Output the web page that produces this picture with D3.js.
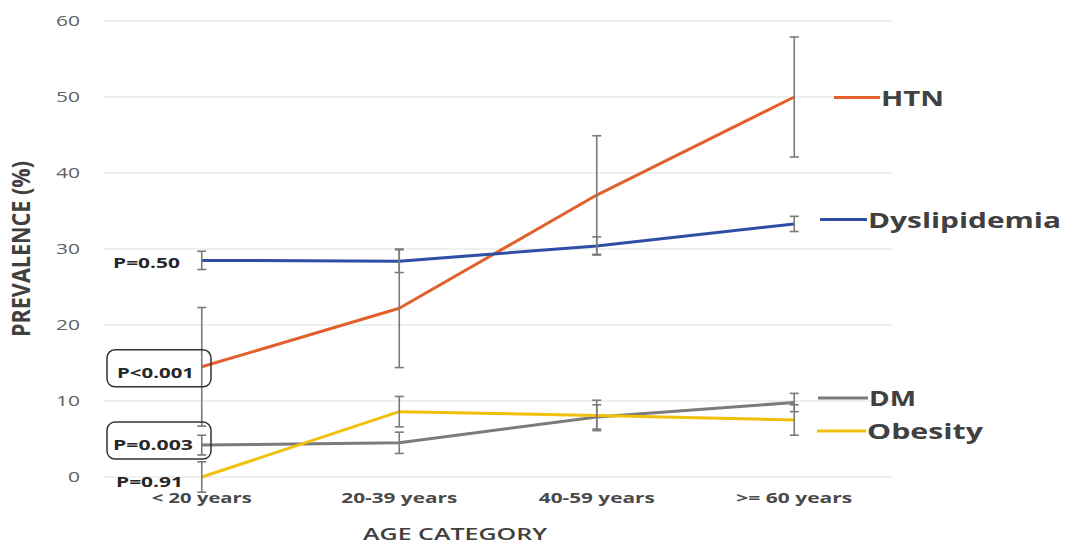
<!DOCTYPE html>
<html>
<head>
<meta charset="utf-8">
<script src="https://cdn.jsdelivr.net/npm/d3@7"></script>
<style>
  html, body { margin: 0; padding: 0; background: #fff; }
  svg { display: block; font-family: "Open Sans", "DejaVu Sans", sans-serif; }
</style>
</head>
<body>
<svg id="chart" width="1067" height="545"></svg>
<script>
// Age groups on the x axis
const categories = ["< 20 years", "20-39 years", "40-59 years", ">= 60 years"];

// Prevalence (%) per age group, with error-bar half widths
const htn = [14.5, 22.2, 37.1, 50.0];
const htnErr = [7.8, 7.8, 7.8, 7.9];
const dyslipidemia = [28.5, 28.4, 30.4, 33.3];
const dyslipidemiaErr = [1.2, 1.5, 1.2, 1.0];
const dm = [4.2, 4.5, 7.9, 9.8];
const dmErr = [1.3, 1.4, 1.6, 1.2];
const obesity = [0.0, 8.6, 8.1, 7.5];
const obesityErr = [2.0, 2.0, 2.0, 2.0];

const seriesNames = ["HTN", "Dyslipidemia", "DM", "Obesity"];
const pValues = ["P<0.001", "P=0.50", "P=0.003", "P=0.91"];
const yTicks = [0, 10, 20, 30, 40, 50, 60];

// ---- layout / style ----
const colors = { HTN: "#E1602B", Dyslipidemia: "#2F4EA6", DM: "#7B7B7B", Obesity: "#F1C10A" };
const plot = { left: 103, right: 893, top: 21, bottom: 477 };

const series = [
  { name: "HTN", values: htn, err: htnErr },
  { name: "Dyslipidemia", values: dyslipidemia, err: dyslipidemiaErr },
  { name: "DM", values: dm, err: dmErr },
  { name: "Obesity", values: obesity, err: obesityErr }
];

const svg = d3.select("#chart");

const x = d3.scaleBand().domain(categories).range([plot.left, plot.right]);
const cx = c => x(c) + x.bandwidth() / 2;
const y = d3.scaleLinear().domain([0, 60]).range([plot.bottom, plot.top]);

// horizontal gridlines
svg.append("g")
  .selectAll("line")
  .data(yTicks)
  .join("line")
  .attr("x1", plot.left).attr("x2", plot.right)
  .attr("y1", d => y(d)).attr("y2", d => y(d))
  .attr("stroke", "#e2e2e2").attr("stroke-width", 1.2);

// y tick labels (right edge at x = 80)
const yAxis = d3.axisLeft(y).tickValues(yTicks).tickSize(0).tickPadding(0);
const gy = svg.append("g").attr("transform", "translate(80,0)").call(yAxis);
gy.select(".domain").remove();
gy.selectAll("text")
  .attr("font-size", 15).attr("fill", "#606060")
  .attr("font-family", "'Open Sans', sans-serif")
  .attr("textLength", d => (d === 0 ? 12 : 24))
  .attr("lengthAdjust", "spacingAndGlyphs");

// x tick labels
const xLabelWidths = [100, 116, 116, 116];
const xAxis = d3.axisBottom(x).tickSize(0).tickPadding(0);
const gx = svg.append("g").attr("transform", "translate(0,493)").call(xAxis);
gx.select(".domain").remove();
gx.selectAll("text")
  .attr("font-size", 14).attr("font-weight", 700).attr("fill", "#4a4a4a")
  .attr("font-family", "'Open Sans', sans-serif")
  .attr("textLength", (d, i) => xLabelWidths[i])
  .attr("lengthAdjust", "spacingAndGlyphs");

// axis titles
svg.append("text")
  .attr("x", 455).attr("y", 540)
  .attr("text-anchor", "middle")
  .attr("font-size", 17).attr("font-weight", 600).attr("fill", "#404040")
  .attr("textLength", 184).attr("lengthAdjust", "spacingAndGlyphs")
  .text("AGE CATEGORY");

svg.append("text")
  .attr("transform", "translate(30,249) scale(1.3,1) rotate(-90)")
  .attr("text-anchor", "middle")
  .attr("font-size", 19).attr("font-weight", 700).attr("fill", "#404040")
  .attr("textLength", 176).attr("lengthAdjust", "spacingAndGlyphs")
  .text("PREVALENCE (%)");

// series lines
const line = d3.line()
  .x((d, i) => cx(categories[i]))
  .y(d => y(d));

const drawOrder = ["DM", "HTN", "Dyslipidemia", "Obesity"];
drawOrder.forEach(name => {
  const s = series.find(t => t.name === name);
  svg.append("path")
    .datum(s.values)
    .attr("d", line)
    .attr("fill", "none")
    .attr("stroke", colors[name])
    .attr("stroke-width", 3)
    .attr("stroke-linejoin", "round");
});

// error bars
const capHalf = 4.5;
series.forEach(s => {
  const g = svg.append("g").attr("stroke", "#7a7a7a").attr("stroke-width", 1.6);
  s.values.forEach((v, i) => {
    const px = cx(categories[i]);
    const lo = y(v - s.err[i]), hi = y(v + s.err[i]);
    g.append("line").attr("x1", px).attr("x2", px).attr("y1", lo).attr("y2", hi);
    g.append("line").attr("x1", px - capHalf).attr("x2", px + capHalf).attr("y1", lo).attr("y2", lo);
    g.append("line").attr("x1", px - capHalf).attr("x2", px + capHalf).attr("y1", hi).attr("y2", hi);
  });
});

// legend labels at the right end of each line
const legend = [
  { name: "HTN", x1: 834, x2: 880, y: 97.5, tw: 63 },
  { name: "Dyslipidemia", x1: 820, x2: 867, y: 219.5, tw: 193 },
  { name: "DM", x1: 818, x2: 868, y: 398, tw: 47 },
  { name: "Obesity", x1: 817, x2: 866, y: 431, tw: 116 }
];
legend.forEach(l => {
  svg.append("line")
    .attr("x1", l.x1).attr("x2", l.x2).attr("y1", l.y).attr("y2", l.y)
    .attr("stroke", colors[l.name]).attr("stroke-width", 3);
  svg.append("text")
    .attr("x", l.x2 + 1).attr("y", l.y + 8)
    .attr("font-size", 22).attr("font-weight", 700).attr("fill", "#404040")
    .attr("textLength", l.tw).attr("lengthAdjust", "spacingAndGlyphs")
    .text(l.name);
});

// p-value labels beside the first age group
const pLayout = [
  { x: 117, dy: 11, w: 77, box: true },   // HTN
  { x: 113, dy: 8, w: 67, box: false },   // Dyslipidemia
  { x: 113, dy: 5, w: 80, box: true },    // DM
  { x: 116, dy: 10, w: 67, box: false }   // Obesity
];
series.forEach((s, i) => {
  const p = pLayout[i];
  const ly = y(s.values[0]);
  if (p.box) {
    svg.append("rect")
      .attr("x", 107).attr("y", ly + p.dy - 28)
      .attr("width", 104).attr("height", 37)
      .attr("rx", 8).attr("ry", 8)
      .attr("fill", "none").attr("stroke", "#333").attr("stroke-width", 1.5);
  }
  svg.append("text")
    .attr("x", p.x).attr("y", ly + p.dy)
    .attr("font-size", 14).attr("font-weight", 700).attr("fill", "#262626")
    .attr("textLength", p.w).attr("lengthAdjust", "spacingAndGlyphs")
    .text(pValues[i]);
});
</script>
</body>
</html>
